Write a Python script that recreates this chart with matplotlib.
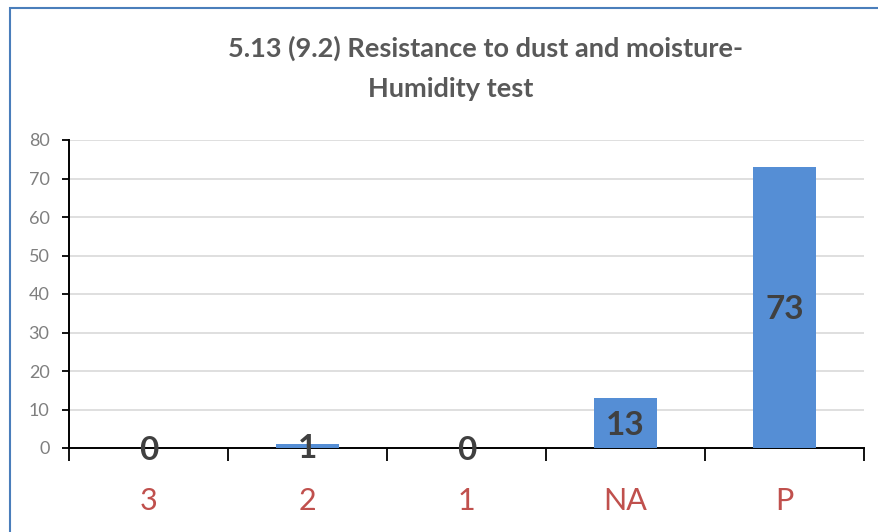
import matplotlib.pyplot as plt
from matplotlib.patches import Rectangle
from matplotlib.ticker import FixedLocator, MultipleLocator

categories = ["3", "2", "1", "NA", "P"]
counts = [0, 1, 0, 13, 73]
title_line1 = "5.13 (9.2) Resistance to dust and moisture-"
title_line2 = "Humidity test"

plt.rcParams['font.family'] = ['Lato', 'DejaVu Sans']

fig = plt.figure(figsize=(8.79, 5.32), dpi=100)
ax = fig.add_axes([69/879, 1 - 448/532, (864 - 69)/879, (448 - 140)/532])

x = list(range(len(categories)))
ax.bar(x, counts, width=0.4, color="#558ED5", zorder=3)

for xi, v in zip(x, counts):
    ax.text(xi, v / 2, str(v), ha="center", va="center_baseline", fontsize=24,
            fontweight="bold", color="#404040", zorder=4)

ax.set_xlim(-0.5, len(categories) - 0.5)
ax.set_ylim(0, 80)
ax.yaxis.set_major_locator(MultipleLocator(10))
ax.grid(axis="y", color="#D9D9D9", linewidth=1.2, zorder=0)

ax.set_xticks(x)
ax.set_xticklabels(categories)
ax.xaxis.set_minor_locator(FixedLocator([i - 0.5 for i in range(len(categories) + 1)]))
ax.tick_params(axis="x", which="major", length=0, pad=28, labelsize=22, labelcolor="#C0504D")
ax.tick_params(axis="x", which="minor", length=9, width=1.3, direction="out", color="black")
ax.tick_params(axis="y", length=5, width=1.3, pad=9, labelsize=13, labelcolor="#7F7F7F", color="black")

for s in ["top", "right"]:
    ax.spines[s].set_visible(False)
for s in ["left", "bottom"]:
    ax.spines[s].set_color("black")
    ax.spines[s].set_linewidth(1.4)

fig.text(486/879, 1 - 48/532, title_line1, ha="center", va="center", fontsize=19.5,
         fontweight="bold", color="#595959")
fig.text(451/879, 1 - 89/532, title_line2, ha="center", va="center", fontsize=19.5,
         fontweight="bold", color="#595959")

# chart frame (cropped at the right and bottom)
fig.add_artist(Rectangle((10/879, -0.1), 2, 1.1 - 8/532, transform=fig.transFigure,
                         fill=False, edgecolor="#4A7EBB", linewidth=1.5, clip_on=False))

fig.savefig("out.png", dpi=100)
